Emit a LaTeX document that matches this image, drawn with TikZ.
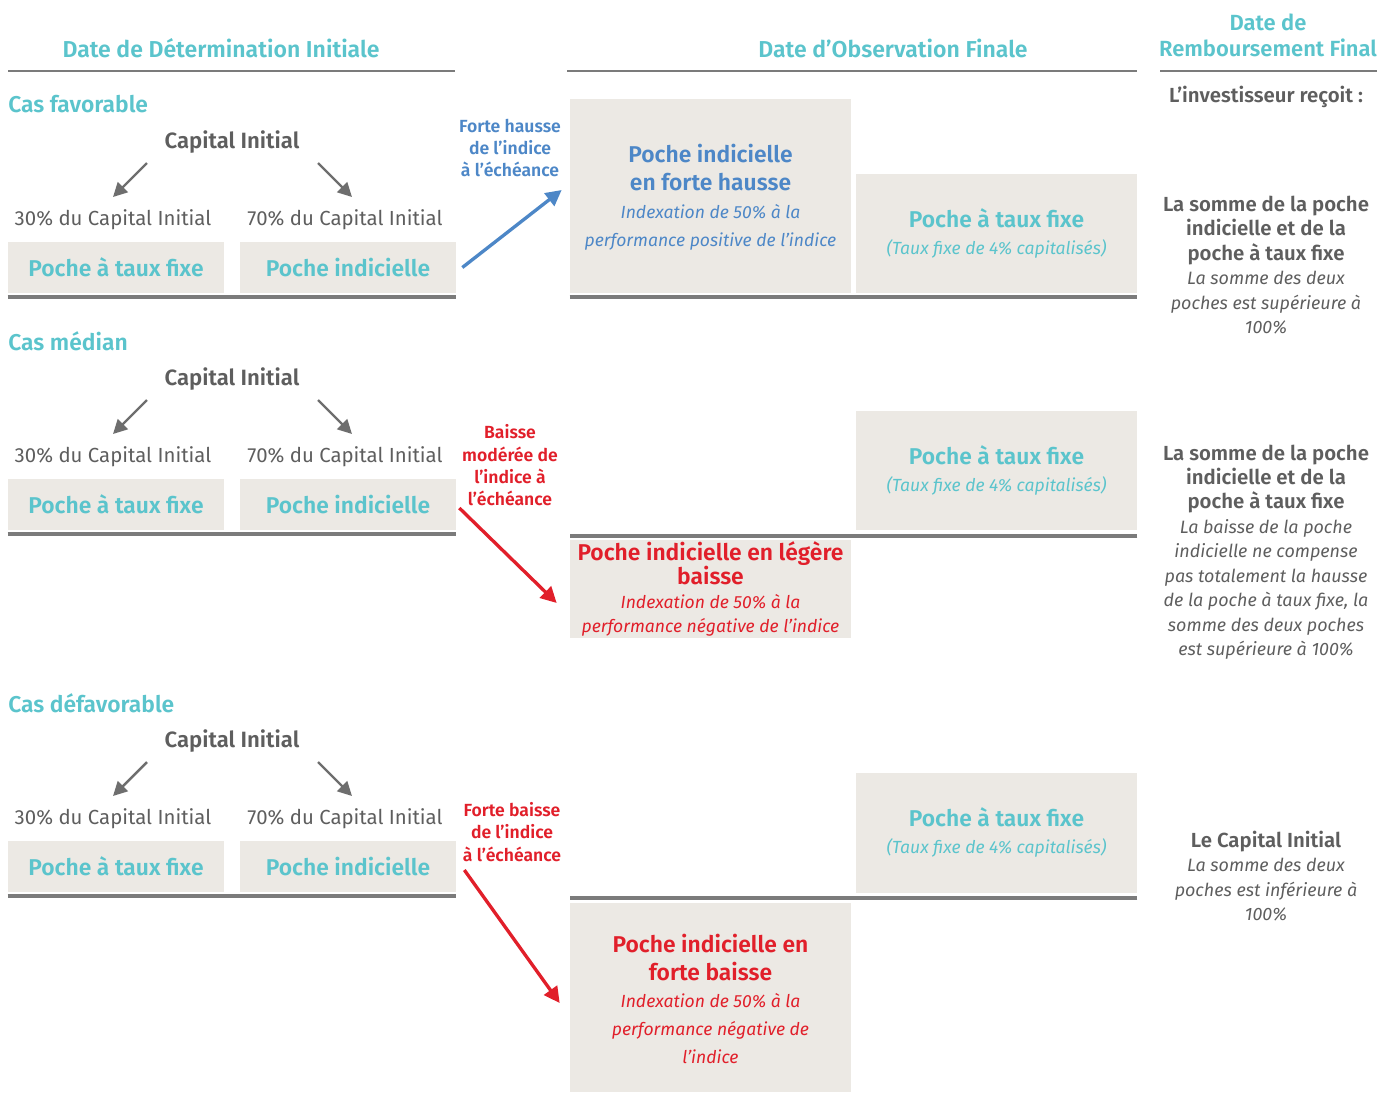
\documentclass[tikz,border=0pt]{standalone}
\usepackage{fontspec}
\setmainfont{Fira Sans}[BoldFont={Fira Sans SemiBold},BoldItalicFont={Fira Sans SemiBold Italic}]
\usepackage{xcolor}
\usepackage{tikz}
\usetikzlibrary{arrows.meta, positioning}

\definecolor{turq}{HTML}{5BC4CC}
\definecolor{bleu}{HTML}{4D87C7}
\definecolor{rouge}{HTML}{E11F2A}
\definecolor{gristexte}{HTML}{5E5E5E}
\definecolor{fond}{HTML}{ECE9E4}
\definecolor{trait}{HTML}{7B7B7B}

\tikzset{
  titre/.style={text=turq, font=\fontsize{13.1}{14.7}\selectfont\bfseries, align=center},
  cas/.style={text=turq, font=\fontsize{13}{15}\selectfont\bfseries, anchor=west, inner sep=0},
  capital/.style={text=gristexte, font=\fontsize{12.6}{15}\selectfont\bfseries},
  part/.style={text=gristexte, font=\fontsize{11.6}{13}\selectfont},
  poche/.style={fill=fond, text=turq, font=\fontsize{13}{15.8}\selectfont\bfseries,
    inner sep=0, align=center},
  etiquette/.style={font=\fontsize{10}{12.7}\selectfont\bfseries, align=center},
  recu/.style={text=gristexte, font=\fontsize{11.6}{13.9}\selectfont\bfseries, align=center},
  fleche gris/.style={draw=gristexte!90, line width=1.4pt, -{Triangle[length=8pt,width=8pt]}},
  fleche/.style={line width=1.9pt, -{Triangle[length=9pt,width=9pt]}},
  trait fin/.style={draw=trait, line width=1.1pt},
  trait epais/.style={draw=trait, line width=2.4pt}
}

% une ligne en italique
\newcommand{\ital}{\fontsize{10}{14.6}\selectfont\mdseries\itshape}
\newcommand{\italserre}{\fontsize{10}{13.6}\selectfont\mdseries\itshape}
\newcommand{\itald}{\fontsize{10.2}{13.6}\selectfont\mdseries\itshape}

\begin{document}
\begin{tikzpicture}[x=0.02cm, y=-0.02cm]
  \useasboundingbox (0,0) rectangle (1377,1093);

  % En-tetes
  \node[titre] (h1) at (221,48) {Date de Détermination Initiale};
  \node[titre] (h2) at (893,48) {Date d’Observation Finale};
  \node[titre, font=\fontsize{12.5}{14.7}\selectfont\bfseries] (h3) at (1268,35) {Date de\\Remboursement Final};
  \draw[trait fin] (8,71) -- (455,71);
  \draw[trait fin] (567,71) -- (1137,71);
  \draw[trait fin] (1160,71) -- (1377,71);

  % Colonne de gauche, une fois par cas
  \foreach \dy/\cas/\k in {0/Cas favorable/a, 237/Cas médian/b, 599/Cas défavorable/c}{
    \node[cas] (cas\k) at (8,104+\dy) {\cas};
    \node[capital] (cap\k) at (232,142+\dy) {Capital Initial};
    \node[part] (pt\k) at (113,220+\dy) {30\% du Capital Initial};
    \node[part] (pc\k) at (345,220+\dy) {70\% du Capital Initial};
    \node[poche, minimum width=4.32cm, minimum height=1.02cm] (tf\k) at (116,267.5+\dy) {Poche à taux fixe};
    \node[poche, minimum width=4.32cm, minimum height=1.02cm] (ix\k) at (348,267.5+\dy) {Poche indicielle};
    \draw[fleche gris] (cap\k.center) ++(-85,21) -- ++(-34,34);
    \draw[fleche gris] (cap\k.center) ++(86,21) -- ++(34,34);
    \draw[trait epais] ([yshift=-0.08cm]tf\k.south west) -- ([yshift=-0.08cm]ix\k.south east);
    % poche a taux fixe a l'observation
    \node[poche, minimum width=5.62cm, minimum height=2.4cm] (fx\k) at (996.5,233.5+\dy)
      {Poche à taux fixe\\\ital (Taux fixe de 4\% capitalisés)};
  }

  % Cas favorable
  \node[poche, text=bleu, minimum width=5.62cm, minimum height=3.88cm] (hausse) at (710.5,196)
    {\\[-4pt]Poche indicielle\\en forte hausse\\\ital Indexation de 50\% à la\\\ital performance positive de l’indice};
  \node[etiquette, text=bleu] (lha) at (510,148) {Forte hausse\\de l’indice\\à l’échéance};
  \draw[fleche, bleu] ([xshift=0.12cm]ixa.east) -- ([xshift=-0.16cm,yshift=0.12cm]hausse.west);
  \draw[trait epais] ([yshift=-0.08cm]hausse.south west) -- ([yshift=-0.08cm]hausse.south west -| fxa.east);
  \node[recu] (recoit) at (1266,97) {L’investisseur reçoit :};
  \node[recu] (ra) at (1266,265) {La somme de la poche\\indicielle et de la\\poche à taux fixe\\
    \itald La somme des deux\\\itald poches est supérieure à\\\itald 100\%};

  % Cas median
  \draw[trait epais] ([yshift=-0.1cm]fxb.south east) -- ([yshift=-0.1cm]fxb.south west) -- ++(-286,0) coordinate (gb);
  \node[poche, text=rouge, font=\fontsize{13}{13.6}\selectfont\bfseries, minimum width=5.62cm, minimum height=1.96cm] (legere) at (710.5,589)
    {Poche indicielle en légère\\baisse\\\italserre Indexation de 50\% à la\\\italserre performance négative de l’indice};
  \node[etiquette, text=rouge] (lhb) at (510,465.5) {Baisse\\modérée de\\l’indice à\\l’échéance};
  \draw[fleche, rouge] ([xshift=0.06cm,yshift=-0.07cm]ixb.east) -- ([xshift=-0.26cm,yshift=-0.28cm]legere.west);
  \node[recu] (rb) at (1266,552) {La somme de la poche\\indicielle et de la\\poche à taux fixe\\
    \itald La baisse de la poche\\\itald indicielle ne compense\\\itald pas totalement la hausse\\
    \itald de la poche à taux fixe, la\\\itald somme des deux poches\\\itald est supérieure à 100\%};

  % Cas defavorable
  \draw[trait epais] ([yshift=-0.1cm]fxc.south east) -- ([yshift=-0.1cm]fxc.south west) -- ++(-286,0) coordinate (gc);
  \node[poche, text=rouge, minimum width=5.62cm, minimum height=3.78cm] (forte) at (710.5,997.5)
    {\\[-4pt]Poche indicielle en\\forte baisse\\\ital Indexation de 50\% à la\\\ital performance négative de\\\ital l’indice};
  \node[etiquette, text=rouge] (lhc) at (512,832) {Forte baisse\\de l’indice\\à l’échéance};
  \draw[fleche, rouge] ([xshift=0.16cm,yshift=-0.07cm]ixc.east) -- ([xshift=-0.2cm,yshift=-0.11cm]forte.west);
  \node[recu] (rc) at (1266,876) {Le Capital Initial\\\itald La somme des deux\\\itald poches est inférieure à\\\itald 100\%};
\end{tikzpicture}
\end{document}
